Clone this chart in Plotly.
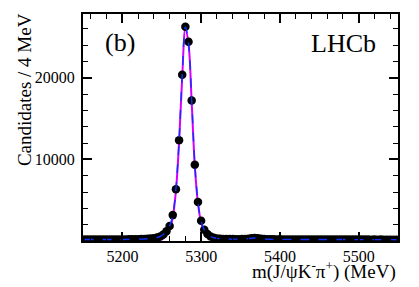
import plotly.graph_objects as go

# bin centres (4 MeV bins from 5150 to 5550)
mass = [5152 + 4 * i for i in range(100)]

counts = [
    175, 172, 178, 170, 176, 180, 174, 182, 178, 185,
    188, 184, 192, 195, 200, 205, 212, 220, 235, 250,
    275, 300,
    330, 420, 560, 800, 1200, 1830, 3170, 6340, 12350, 20370,
    26250, 24390, 17200, 9350, 4790, 2480, 1380, 850, 560, 400,
    320, 280, 260, 245, 235, 230, 225, 225, 230, 245,
    280, 340, 380, 350, 290, 240, 215, 205,
    200, 198, 202, 195, 197, 193, 196, 190, 192, 188,
    190, 186, 189, 185, 183, 186, 182, 180, 183, 178,
    180, 176, 179, 175, 177, 173, 175, 172, 174, 170,
    172, 168, 170, 167, 169, 165, 167, 164, 166, 162,
]

# total fit (blue dashed)
fit_total = [
    176, 176, 177, 177, 178, 179, 180, 181, 182, 184,
    186, 188, 190, 193, 197, 202, 209, 218, 231, 248,
    272, 305,
    345, 420, 560, 800, 1200, 1850, 3200, 6400, 12300, 20300,
    26200, 24300, 17200, 9400, 4800, 2450, 1380, 850, 560, 400,
    320, 280, 258, 245, 236, 230, 226, 226, 232, 250,
    285, 335, 370, 345, 290, 245, 218, 206,
    200, 198, 197, 196, 195, 194, 193, 192, 191, 190,
    189, 188, 187, 186, 185, 184, 183, 182, 181, 180,
    179, 178, 177, 176, 175, 174, 173, 172, 171, 170,
    169, 168, 167, 167, 166, 165, 164, 164, 163, 162,
]

# B0 signal component (magenta)
fit_signal = [
    0, 0, 0, 0, 0, 0, 0, 0, 0, 0,
    0, 0, 0, 0, 0, 1, 1, 2, 3, 5,
    8, 12,
    20, 50, 120, 300, 700, 1400, 2900, 6150, 12050, 20050,
    26000, 24100, 17000, 9200, 4600, 2250, 1150, 620, 330, 170,
    90, 45, 20, 10, 5, 3, 2, 1, 1, 0,
    0, 0, 0, 0, 0, 0, 0, 0,
    0, 0, 0, 0, 0, 0, 0, 0, 0, 0,
    0, 0, 0, 0, 0, 0, 0, 0, 0, 0,
    0, 0, 0, 0, 0, 0, 0, 0, 0, 0,
    0, 0, 0, 0, 0, 0, 0, 0, 0, 0,
]

x_ticks = [5200, 5300, 5400, 5500]
y_ticks = [10000, 20000]
y_tick_labels = ["10000", "20000"]

FONT = "Liberation Serif, Times New Roman, Times, serif"

fig = go.Figure()
fig.add_trace(go.Scatter(
    x=mass, y=fit_signal, mode="lines", line_shape="spline",
    line=dict(color="#d400ff", width=2),
    showlegend=False,
))
fig.add_trace(go.Scatter(
    x=mass, y=counts, mode="markers",
    marker=dict(color="black", size=8.5, line=dict(width=0)),
    showlegend=False,
))
fig.add_trace(go.Scatter(
    x=mass, y=fit_total, mode="lines", line_shape="spline",
    line=dict(color="#1030ff", width=1.4, dash="dash"),
    showlegend=False,
))

axis_common = dict(
    showline=True, linecolor="black", linewidth=2, mirror="allticks",
    ticks="inside", tickcolor="black", tickwidth=1.5, ticklen=9,
    showgrid=False, zeroline=False, layer="above traces",
    tickfont=dict(family=FONT, size=16, color="black"),
)

fig.update_xaxes(
    range=[5150, 5550], tickvals=x_ticks,
    minor=dict(dtick=20, ticks="inside", ticklen=5, tickcolor="black", tickwidth=1.2),
    **axis_common,
)
fig.update_yaxes(
    range=[0, 27800], tickvals=y_ticks, ticktext=y_tick_labels,
    ticklabelstandoff=3,
    minor=dict(dtick=2000, ticks="inside", ticklen=5, tickcolor="black", tickwidth=1.2),
    **axis_common,
)

fig.update_layout(
    width=419, height=287,
    margin=dict(l=83, r=21, t=14, b=46),
    paper_bgcolor="white", plot_bgcolor="white",
    font=dict(family=FONT, color="black"),
    annotations=[
        dict(text="Candidates / 4 MeV", xref="paper", yref="paper",
             x=-0.185, y=0.668, xanchor="center", yanchor="middle",
             textangle=-90, showarrow=False, font=dict(family=FONT, size=19)),
        dict(text="m(J/ψK<sup>-</sup>π<sup>+</sup>) (MeV)", xref="paper", yref="paper",
             x=1.0, y=-0.13, xanchor="right", yanchor="middle",
             showarrow=False, font=dict(family=FONT, size=19)),
        dict(text="(b)", xref="paper", yref="paper",
             x=0.063, y=0.875, xanchor="left", yanchor="middle",
             showarrow=False, font=dict(family=FONT, size=26)),
        dict(text="LHCb", xref="paper", yref="paper",
             x=0.937, y=0.87, xanchor="right", yanchor="middle",
             showarrow=False, font=dict(family=FONT, size=26)),
    ],
)

fig.write_html("out.html",
               config={"displayModeBar": False},
               post_script="document.body.style.margin='0';document.body.style.padding='0';")
